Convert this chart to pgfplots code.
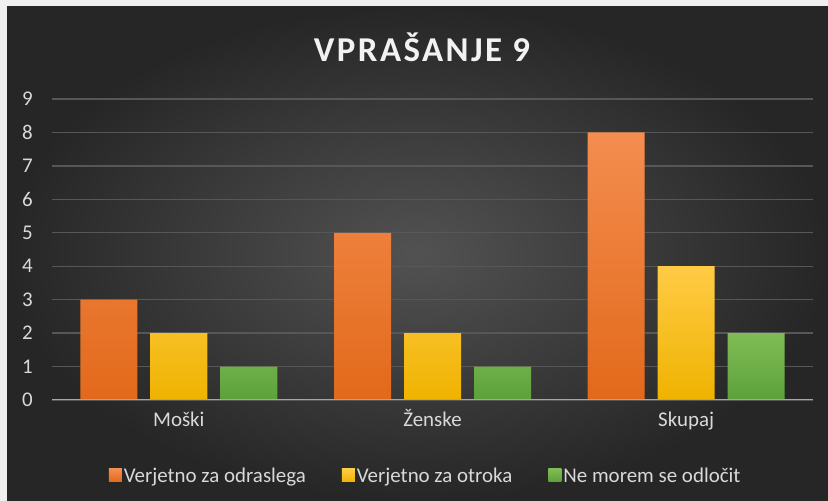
\documentclass[border=0pt]{standalone}
\usepackage{pgfplots}
\pgfplotsset{compat=1.18}
\usepackage{fontspec}
\setmainfont{Carlito}
\definecolor{border}{HTML}{EFEFEF}
\definecolor{bgIn}{HTML}{525252}
\definecolor{bgOut}{HTML}{262626}
\definecolor{textc}{HTML}{D9D9D9}
\definecolor{titlec}{HTML}{F2F2F2}
\definecolor{gridc}{HTML}{575757}
\definecolor{axisc}{HTML}{A6A6A6}
\definecolor{orTop}{HTML}{F48D4F}
\definecolor{orBot}{HTML}{E2691B}
\definecolor{yeTop}{HTML}{FFCB45}
\definecolor{yeBot}{HTML}{EFB300}
\definecolor{grTop}{HTML}{80BC56}
\definecolor{grBot}{HTML}{5CA13A}
\begin{document}
\begin{tikzpicture}[x=1bp,y=1bp]
\fill[border] (0,0) rectangle (828,501);
\shade[inner color=bgIn, outer color=bgOut] (7,0) rectangle (828,494);
\node[text=titlec, inner sep=0pt, font=\fontsize{35}{42}\selectfont\bfseries\addfontfeature{LetterSpace=7}] at (422,454) {VPRAŠANJE 9};
\begin{axis}[
  at={(52bp,101bp)}, anchor=south west,
  scale only axis, width=761bp, height=301bp,
  xmin=-0.5, xmax=2.5, ymin=0, ymax=9,
  ybar=13bp, bar width=57bp,
  axis line style={draw=none},
  major tick length=0pt,
  ytick={0,1,...,9},
  xtick={0,1,2},
  xticklabels={Moški, Ženske, Skupaj},
  ymajorgrids, grid style={gridc, line width=1.3bp},
  tick label style={text=textc, font=\fontsize{21}{25}\selectfont},
  /pgf/number format/assume math mode=true,
  yticklabel style={anchor=east, inner sep=0pt, xshift=-19bp},
  xticklabel style={anchor=north, inner sep=0pt, text height=13bp, text depth=4bp, yshift=-13bp},
  legend style={at={(0.491,-0.252)}, anchor=center, draw=none, fill=none,
    font=\fontsize{21}{25}\selectfont, text=textc,
    nodes={inner sep=2bp, text=textc},
    /tikz/every even column/.append style={column sep=34bp}},
  legend columns=-1,
  legend image code/.code={\fill[#1] (0bp,-6bp) rectangle (13bp,7bp);},
]
\addplot[draw=none, top color=orTop, bottom color=orBot] coordinates {(0,3) (1,5) (2,8)};
\addplot[draw=none, top color=yeTop, bottom color=yeBot] coordinates {(0,2) (1,2) (2,4)};
\addplot[draw=none, top color=grTop, bottom color=grBot] coordinates {(0,1) (1,1) (2,2)};
\legend{Verjetno za odraslega, Verjetno za otroka, Ne morem se odločit}
\draw[axisc, line width=1.3bp] (axis cs:-0.5,0) -- (axis cs:2.5,0);
\end{axis}
\end{tikzpicture}
\end{document}
